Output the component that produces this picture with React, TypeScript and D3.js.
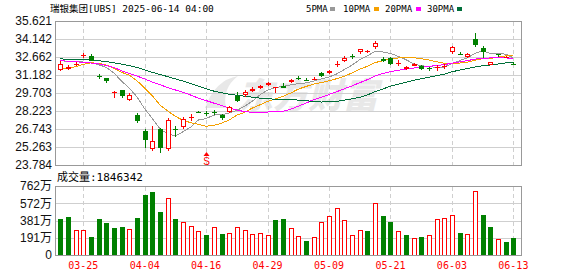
import React from 'react';
import * as d3 from 'd3';

const dates = ['03-20','03-21','03-24','03-25','03-26','03-27','03-28','03-31','04-01','04-02','04-03','04-04','04-07','04-08','04-09','04-10','04-11','04-14','04-15','04-16','04-17','04-21','04-22','04-23','04-24','04-25','04-28','04-29','04-30','05-01','05-02','05-05','05-06','05-07','05-08','05-09','05-12','05-13','05-14','05-15','05-16','05-19','05-20','05-21','05-22','05-23','05-27','05-28','05-29','05-30','06-02','06-03','06-04','06-05','06-06','06-09','06-10','06-11','06-12','06-13'];

const opens = [31.57,31.65,32.03,32.76,32.74,31.14,30.91,29.68,29.95,29.10,27.89,26.60,25.12,26.72,25.12,26.75,26.88,27.66,28.13,28.08,28.13,27.87,28.12,29.46,29.51,29.84,30.13,30.38,30.13,30.24,30.58,30.96,30.78,30.80,31.32,31.35,32.07,32.36,32.76,33.10,33.12,33.46,32.52,32.58,32.12,31.65,31.95,31.90,31.75,31.76,31.84,33.10,32.90,32.64,34.14,33.43,32.03,32.87,32.60,32.11];
const highs = [32.31,31.98,32.23,32.97,32.91,31.29,30.95,29.89,29.98,29.73,28.08,26.72,26.99,26.83,27.62,26.96,27.71,27.95,28.25,28.22,28.28,28.00,28.66,29.78,29.95,30.17,30.38,30.57,30.20,30.50,30.88,31.10,30.94,31.03,31.45,31.57,32.31,32.74,32.91,33.32,33.26,33.97,32.66,32.69,32.39,31.95,32.19,31.99,31.84,32.00,32.09,33.59,33.10,32.97,34.66,33.57,32.28,32.90,32.75,32.23];
const lows = [31.55,31.62,31.92,32.58,32.30,30.88,30.55,29.27,29.32,29.08,27.24,25.21,24.91,24.80,24.93,26.11,26.72,27.43,28.02,27.81,27.89,27.46,28.08,28.99,29.40,29.78,30.00,30.27,29.73,30.08,30.50,30.77,30.71,30.77,31.04,31.27,31.81,32.25,32.52,32.93,32.99,33.32,32.23,32.00,31.95,31.59,31.90,31.59,31.54,31.54,31.67,32.91,32.86,32.56,33.46,32.60,32.00,32.66,32.55,31.98];
const closes = [32.11,31.82,32.09,32.80,32.36,31.10,30.69,29.75,29.46,29.56,27.38,25.86,25.73,25.21,27.48,26.62,27.54,27.72,28.08,28.04,28.09,27.62,28.53,29.07,29.81,30.06,30.27,30.50,30.17,30.15,30.77,30.83,30.75,30.88,31.13,31.49,32.11,32.55,32.72,33.32,33.15,33.84,32.36,32.09,32.16,31.81,32.06,31.65,31.71,31.84,31.92,33.48,32.86,32.88,33.65,33.10,32.23,32.83,32.69,32.08];
const PREV_CLOSE = 32.3;

// volume in 万 (10k shares)
const volumes = [397,420,272,272,199,397,357,298,309,287,409,662,696,475,626,397,361,320,261,221,305,236,239,313,272,228,239,217,386,397,294,206,155,195,361,427,515,383,217,272,265,571,431,364,261,221,184,199,221,394,405,438,243,232,703,442,309,173,144,185];

const ma5 = [32.36,32.30,32.26,32.25,32.24,32.03,31.81,31.34,30.67,30.11,29.37,28.40,27.60,26.75,26.33,26.18,26.52,26.91,27.49,27.60,27.89,27.91,28.07,28.27,28.62,29.02,29.55,29.94,30.16,30.23,30.37,30.48,30.53,30.68,30.87,31.02,31.27,31.63,32.00,32.44,32.77,33.12,33.08,32.95,32.72,32.45,32.10,31.95,31.88,31.81,31.84,32.12,32.36,32.59,32.96,33.19,32.95,32.93,32.90,32.58];
const ma10 = [31.73,31.73,31.86,32.06,32.19,32.14,32.00,31.73,31.40,31.18,30.70,30.11,29.47,28.71,28.22,27.78,27.46,27.26,27.12,26.97,27.04,27.22,27.49,27.88,28.11,28.46,28.73,29.01,29.22,29.43,29.70,30.02,30.24,30.43,30.56,30.70,30.88,31.09,31.35,31.66,31.90,32.20,32.36,32.48,32.58,32.61,32.61,32.52,32.42,32.27,32.15,32.11,32.16,32.24,32.39,32.52,32.54,32.65,32.75,32.78];
const ma20 = [32.36,32.32,32.28,32.22,32.17,32.10,31.95,31.80,31.52,31.30,31.10,30.85,30.60,30.38,30.15,29.95,29.75,29.53,29.28,29.08,28.87,28.67,28.48,28.30,28.17,28.12,28.10,28.14,28.17,28.20,28.37,28.62,28.87,29.16,29.34,29.58,29.81,30.05,30.29,30.55,30.80,31.11,31.30,31.46,31.57,31.66,31.75,31.81,31.89,31.97,32.03,32.16,32.26,32.36,32.49,32.57,32.58,32.59,32.59,32.53];
const ma30 = [32.50,32.49,32.47,32.45,32.41,32.36,32.28,32.18,32.08,31.95,31.80,31.60,31.40,31.22,31.05,30.86,30.68,30.48,30.26,30.05,29.86,29.72,29.60,29.52,29.44,29.36,29.28,29.22,29.20,29.19,29.15,29.12,29.07,29.01,28.96,28.98,29.02,29.12,29.23,29.35,29.55,29.81,30.03,30.26,30.42,30.59,30.74,30.87,31.00,31.12,31.25,31.44,31.59,31.72,31.84,31.94,32.01,32.09,32.17,32.24];

const priceTicks = [35.621, 34.142, 32.662, 31.182, 29.703, 28.223, 26.743, 25.263, 23.784];
const volTicks = [0, 191, 381, 572, 762];
const xTickLabels = ['03-25','04-04','04-16','04-29','05-09','05-21','06-03','06-13'];
const maNames = ['5PMA', '10PMA', '20PMA', '30PMA'];
const signalDate = '04-16';

const RED = '#ff0000';
const GREEN = '#008000';
const MA_COLORS = ['#999999', '#f5a000', '#ff00ff', '#006f3a'];
const MONO = '"DejaVu Sans Mono", "Noto Sans CJK SC", monospace';
const SANS = '"Liberation Sans", Arial, "Noto Sans CJK SC", sans-serif';

export default function App() {
  const W = 578, H = 276;
  const left = 55.5, right = 521.5;
  const pTop = 21, pBot = 165, vTop = 186, vBot = 255;

  const x = d3.scaleBand<string>().domain(dates).range([56.4, 517.2]);
  const cx = (d: string) => (x(d) as number) + x.bandwidth() / 2;
  const cr = (d: string) => Math.round(cx(d));
  const y = d3.scaleLinear().domain([23.784, 35.621]).range([pBot, pTop]);
  const yv = d3.scaleLinear().domain([0, 762]).range([vBot, vTop]);

  const line = d3.line<number>().x((_, i) => cx(dates[i])).y(v => y(v));
  const mas = [ma5, ma10, ma20, ma30];

  const legendX = [306, 343, 385, 427];
  const legendSq = [330, 374, 416, 457];

  return (
    <svg width={W} height={H} style={{ position: 'absolute', left: 0, top: 0, display: 'block', background: '#fff' }}>
      <rect x={0} y={0} width={W} height={H} fill="#fff" />
      {/* header */}
      <text x={50} y={12} fontFamily={MONO} fontSize={9.5} fill="#000">瑞银集团[UBS] 2025-06-14 04:00</text>
      {maNames.map((n, i) => (
        <g key={n}>
          <text x={legendX[i]} y={12} fontFamily={MONO} fontSize={9} fill="#000">{n}</text>
          <rect x={legendSq[i]} y={7} width={5} height={4} fill={MA_COLORS[i]} />
        </g>
      ))}

      {/* watermark */}
      <text x={238} y={108} fontFamily='"Noto Sans CJK SC", sans-serif' fontWeight={900} fontStyle="italic" fontSize={35} fill="#e8e8e8">东方财富</text>
      <path d="M 205 108 Q 215 80 238 76 Q 222 88 226 108 Z" fill="#e8e8e8" />

      {/* price grid */}
      {priceTicks.map(t => (
        <line key={'pg' + t} x1={left} x2={right} y1={Math.round(y(t)) + 0.5} y2={Math.round(y(t)) + 0.5} stroke="#cfcfcf" />
      ))}
      {volTicks.map(t => (
        <line key={'vg' + t} x1={left} x2={right} y1={Math.round(yv(t)) + 0.5} y2={Math.round(yv(t)) + 0.5} stroke="#cfcfcf" />
      ))}
      {xTickLabels.map(d => (
        <g key={'vx' + d}>
          <line x1={cr(d) + 0.5} x2={cr(d) + 0.5} y1={pTop + 1} y2={pBot} stroke="#cfcfcf" strokeDasharray="4,3" />
          <line x1={cr(d) + 0.5} x2={cr(d) + 0.5} y1={vTop + 1} y2={vBot} stroke="#cfcfcf" strokeDasharray="4,3" />
        </g>
      ))}

      {/* MA lines */}
      {mas.map((m, i) => (
        <path key={'ma' + i} d={line(m) || ''} fill="none" stroke={MA_COLORS[i]} strokeWidth={1} shapeRendering="crispEdges" />
      ))}

      {/* candles */}
      {dates.map((d, i) => {
        const o = opens[i], c = closes[i], h = highs[i], l = lows[i];
        const up = c >= o;
        const col = up ? RED : GREEN;
        const xc = cr(d);
        const top = Math.round(y(Math.max(o, c)));
        const bot = Math.round(y(Math.min(o, c)));
        const hgt = bot - top;
        return (
          <g key={'c' + d} shapeRendering="crispEdges">
            <line x1={xc + 0.5} x2={xc + 0.5} y1={Math.round(y(h))} y2={Math.round(y(l))} stroke={col} />
            {up ? (
              hgt >= 2 ? (
                <rect x={xc - 1.5} y={top + 0.5} width={4} height={hgt - 1} fill="#fff" stroke={col} />
              ) : (
                <rect x={xc - 2} y={top} width={5} height={Math.max(hgt, 1)} fill={col} />
              )
            ) : (
              <rect x={xc - 2} y={top} width={5} height={Math.max(hgt, 1)} fill={col} />
            )}
          </g>
        );
      })}

      {/* sell signal */}
      <path d={`M ${cr(signalDate) + 0.5} 152 L ${cr(signalDate) + 3.5} 156 L ${cr(signalDate) - 2.5} 156 Z`} fill={RED} />
      <text x={cr(signalDate) + 0.5} y={165} textAnchor="middle" fontFamily={SANS} fontSize={10} fill={RED}>S</text>

      {/* volume bars */}
      {dates.map((d, i) => {
        const prev = i === 0 ? PREV_CLOSE : closes[i - 1];
        const up = closes[i] > prev;
        const xc = cr(d);
        const top = Math.round(yv(volumes[i]));
        return up ? (
          <rect key={'v' + d} x={xc - 1.5} y={top + 0.5} width={4} height={vBot - top - 0.5} fill="#fff" stroke={RED} shapeRendering="crispEdges" />
        ) : (
          <rect key={'v' + d} x={xc - 2} y={top} width={5} height={vBot - top + 0.5} fill={GREEN} shapeRendering="crispEdges" />
        );
      })}

      {/* frames */}
      <rect x={left} y={pTop + 0.5} width={right - left} height={pBot - pTop} fill="none" stroke="#999" />
      <rect x={left} y={vTop + 0.5} width={right - left} height={vBot - vTop} fill="none" stroke="#999" />

      {/* price axis labels */}
      {priceTicks.map(t => (
        <text key={'pl' + t} x={52} y={y(t)} dy="0.36em" textAnchor="end" fontFamily={SANS} fontSize={12} fill="#111">{t.toFixed(3)}</text>
      ))}

      {/* volume title & labels */}
      <text x={57} y={181} fontFamily={MONO} fontSize={11} fill="#000">成交量:1846342</text>
      {volTicks.map(t => (
        <text key={'vl' + t} x={52} y={yv(t)} dy="0.36em" textAnchor="end" fontFamily={SANS} fontSize={12} fill="#111">{t === 0 ? '0' : t + '万'}</text>
      ))}

      {/* x labels */}
      {xTickLabels.map(d => (
        <text key={'xl' + d} x={cx(d)} y={269} textAnchor="middle" fontFamily={MONO} fontSize={10} fill={RED}>{d}</text>
      ))}
    </svg>
  );
}
